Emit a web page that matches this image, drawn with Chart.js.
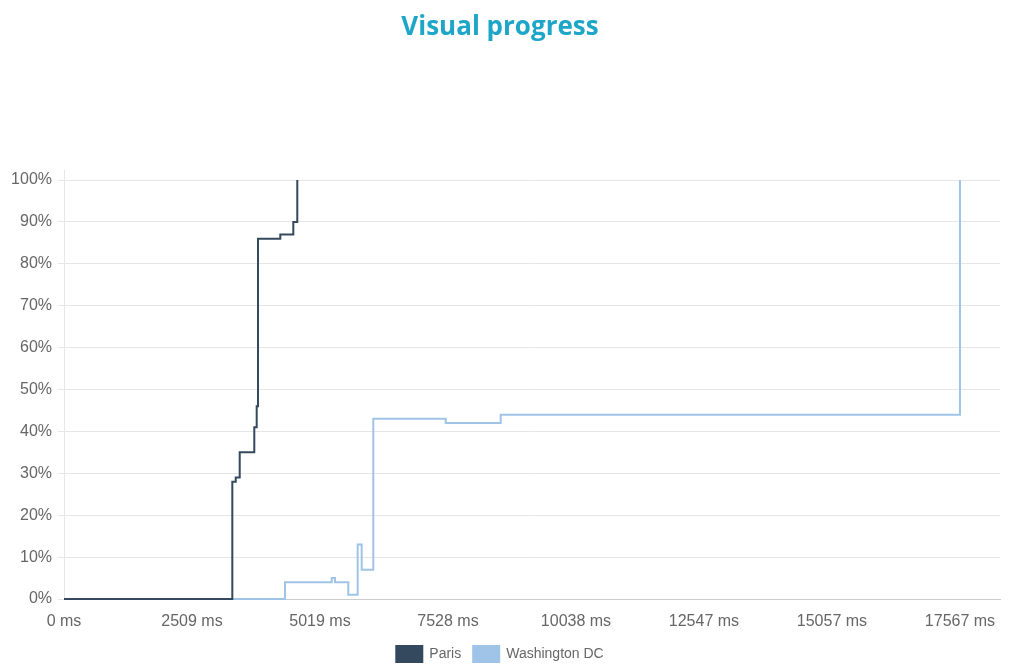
<!DOCTYPE html>
<html>
<head>
<meta charset="utf-8">
<script src="https://cdn.jsdelivr.net/npm/chart.js@4/dist/chart.umd.min.js"></script>
<style>
  html, body { margin: 0; padding: 0; background: #fff; }
  #wrap { width: 1024px; height: 672px; position: relative; }
</style>
</head>
<body>
<div id="wrap"><canvas id="c"></canvas></div>
<script>
const seriesNames = ['Paris', 'Washington DC'];
const parisTimes = [0, 3300, 3367, 3445, 3731, 3778, 3804, 4241, 4496, 4574];
const parisValues = [0, 28, 29, 35, 41, 46, 86, 87, 90, 100];
const dcTimes = [0, 4333, 5249, 5314, 5574, 5758, 5837, 6064, 7484, 8562, 17567];
const dcValues = [0, 4, 5, 4, 1, 13, 7, 43, 42, 44, 100];
const xTickValues = [0, 2509, 5019, 7528, 10038, 12547, 15057, 17567];
const xTickLabels = ['0 ms', '2509 ms', '5019 ms', '7528 ms', '10038 ms', '12547 ms', '15057 ms', '17567 ms'];
const yTickValues = [0, 10, 20, 30, 40, 50, 60, 70, 80, 90, 100];

const toPoints = (xs, ys) => xs.map((x, i) => ({ x: x, y: ys[i] }));

new Chart(document.getElementById('c'), {
  type: 'line',
  data: {
    datasets: [
      {
        label: seriesNames[0],
        data: toPoints(parisTimes, parisValues),
        borderColor: '#34495e',
        backgroundColor: '#34495e',
        borderWidth: 2,
        pointRadius: 0,
        stepped: 'before',
        fill: false,
        clip: false
      },
      {
        label: seriesNames[1],
        data: toPoints(dcTimes, dcValues),
        borderColor: '#9fc4e7',
        backgroundColor: '#9fc4e7',
        borderWidth: 2,
        pointRadius: 0,
        stepped: 'before',
        fill: false,
        clip: false
      }
    ]
  },
  options: {
    responsive: true,
    maintainAspectRatio: false,
    animation: false,
    layout: { padding: { left: 0, right: 24, top: 0, bottom: 0 } },
    plugins: {
      title: {
        display: true,
        text: 'Visual progress',
        color: '#1ea6c8',
        font: { family: 'Open Sans', size: 26, weight: 'bold' },
        padding: { top: 12, bottom: 126.8 }
      },
      legend: {
        display: true,
        position: 'bottom',
        labels: {
          boxWidth: 26,
          boxHeight: 16,
          padding: 12,
          color: '#666',
          font: { family: 'Liberation Sans', size: 14 }
        }
      },
      tooltip: { enabled: false }
    },
    scales: {
      x: {
        type: 'linear',
        min: 0,
        max: 18352,
        afterBuildTicks: (scale) => { scale.ticks = xTickValues.map(v => ({ value: v })); },
        afterFit: (scale) => { scale.height = 35; },
        ticks: {
          autoSkip: false,
          maxRotation: 0,
          padding: 13,
          color: '#666',
          font: { family: 'Liberation Sans', size: 16 },
          callback: (v, i) => xTickLabels[i]
        },
        grid: { display: false, drawTicks: false },
        border: { display: true, color: '#cccccc', width: 1 }
      },
      y: {
        type: 'linear',
        min: 0,
        max: 102.4,
        afterBuildTicks: (scale) => { scale.ticks = yTickValues.map(v => ({ value: v })); },
        afterFit: (scale) => { scale.width = 64; },
        ticks: {
          padding: 6,
          color: '#666',
          font: { family: 'Liberation Sans', size: 16 },
          callback: (v) => v + '%'
        },
        grid: { color: '#e6e6e6', tickLength: 6, drawTicks: true },
        border: { display: true, color: '#e6e6e6', width: 1 }
      }
    }
  }
});
</script>
</body>
</html>
